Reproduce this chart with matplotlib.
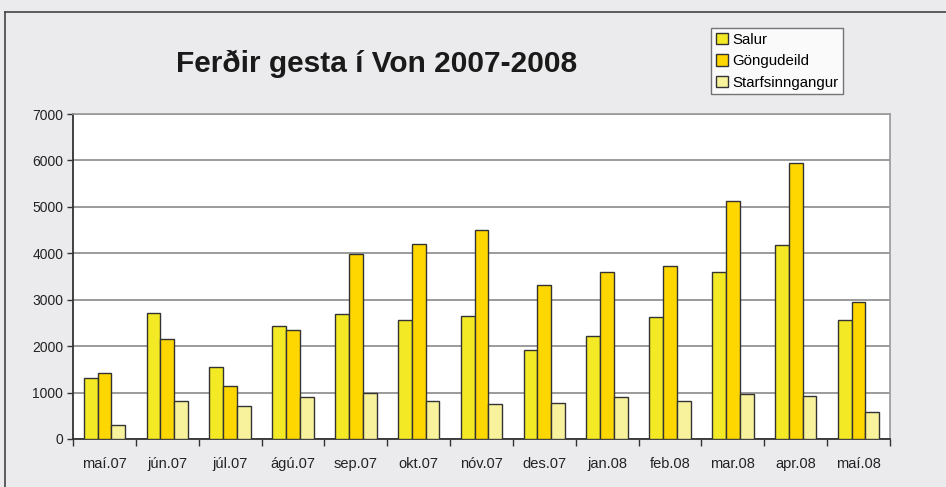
import matplotlib
matplotlib.use("Agg")
import matplotlib.pyplot as plt
import numpy as np
from matplotlib.lines import Line2D

categories = ["maí.07", "jún.07", "júl.07", "ágú.07", "sep.07", "okt.07", "nóv.07",
              "des.07", "jan.08", "feb.08", "mar.08", "apr.08", "maí.08"]
salur = [1320, 2720, 1543, 2427, 2692, 2556, 2656, 1924, 2226, 2628, 3604, 4171, 2570]
gongudeild = [1428, 2154, 1149, 2355, 3984, 4200, 4501, 3317, 3590, 3726, 5126, 5937, 2958]
starfsinngangur = [302, 826, 718, 905, 983, 826, 754, 775, 905, 818, 976, 920, 582]
series_names = ["Salur", "Göngudeild", "Starfsinngangur"]
title = "Ferðir gesta í Von 2007-2008"

plt.rcParams['font.family'] = ['Liberation Sans', 'DejaVu Sans']

W, H = 946, 487
fig = plt.figure(figsize=(W / 100, H / 100), dpi=100)
fig.patch.set_facecolor("#ebebed")

# frame lines of the original embedded chart
fig.add_artist(Line2D([5 / W, 1], [1 - 12 / H, 1 - 12 / H], color="#444444", lw=1.2))
fig.add_artist(Line2D([5 / W, 5 / W], [0, 1 - 12 / H], color="#444444", lw=1.2))

left, right, top, bottom = 73, 890, 114, 439
ax = fig.add_axes([left / W, 1 - bottom / H, (right - left) / W, (bottom - top) / H])
ax.set_facecolor("white")

x = np.arange(len(categories))
bw = 0.22
colors = ["#f3e924", "#ffd700", "#f8f29c"]
for i, (vals, c, name) in enumerate(zip([salur, gongudeild, starfsinngangur], colors, series_names)):
    ax.bar(x + (i - 1) * bw, vals, width=bw, color=c, edgecolor="#333333", linewidth=1.0,
           label=name, zorder=3)

ax.set_xlim(-0.5, len(categories) - 0.5)
ax.set_ylim(0, 7000)
ax.set_yticks(np.arange(0, 7001, 1000))
ax.yaxis.grid(True, color="#8a8a8a", linewidth=1.2, zorder=0)
ax.set_axisbelow(True)

ax.set_xticks(x)
ax.set_xticklabels(categories, fontsize=10.5, color="#222222")
ax.set_xticks(np.arange(-0.5, len(categories) + 0.5, 1), minor=True)
ax.tick_params(axis="x", which="major", length=0, pad=13)
ax.tick_params(axis="x", which="minor", length=5, width=1, color="#333333", direction="out")
ax.tick_params(axis="y", length=4, width=1, color="#333333", direction="out", labelsize=10,
               labelcolor="#222222", pad=3)

for s in ["left", "bottom"]:
    ax.spines[s].set_color("#333333")
    ax.spines[s].set_linewidth(1.3)
for s in ["top", "right"]:
    ax.spines[s].set_color("#999999")
    ax.spines[s].set_linewidth(1.2)

fig.text(377 / W, 1 - 64 / H, title, fontsize=21.5, fontweight="bold", ha="center", va="center",
         color="#1a1a1a")

leg = fig.legend(loc="upper left", bbox_to_anchor=(711 / W, 1 - 28 / H), fontsize=10.8,
                 frameon=True, fancybox=False, edgecolor="#555555", handlelength=0.8,
                 handleheight=0.8, handletextpad=0.3, borderpad=0.3, labelspacing=0.5,
                 borderaxespad=0)
leg.get_frame().set_linewidth(1.0)

fig.savefig("out.png", dpi=100, facecolor=fig.get_facecolor())
